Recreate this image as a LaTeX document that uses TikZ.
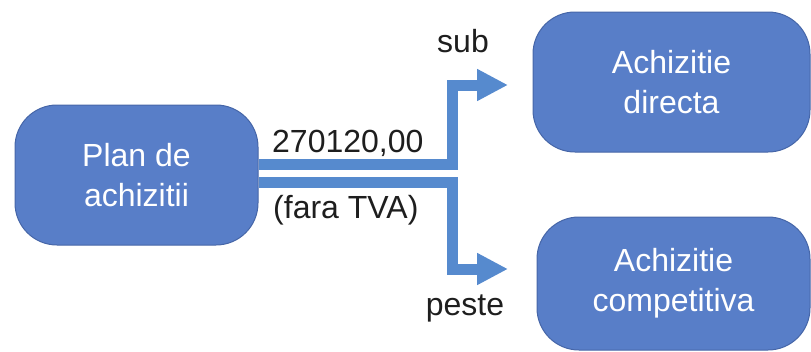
\documentclass[tikz,border=0pt]{standalone}
\usepackage{fontspec}
\setmainfont{Liberation Sans}
\usetikzlibrary{arrows.meta}

\definecolor{boxblue}{RGB}{88,126,200}
\definecolor{boxedge}{RGB}{70,102,168}
\definecolor{arrowblue}{RGB}{86,138,206}
\definecolor{labelgray}{RGB}{30,30,30}

\tikzset{
    stage/.style = {draw=boxedge, fill=boxblue, line width=1pt,
        rounded corners=42pt, text=white, align=center,
        font=\fontsize{32}{40}\selectfont, inner sep=0pt},
    flow/.style = {draw=arrowblue, line width=11pt,
        -{Triangle[length=31pt,width=30pt]}},
    tag/.style = {text=labelgray, font=\fontsize{32}{38}\selectfont,
        inner sep=0pt, anchor=base west}
}

\begin{document}
\begin{tikzpicture}[x=1pt, y=-1pt]

        \useasboundingbox (0,0) rectangle (811,351);

        % The three boxes.
        \node[stage, minimum width=243pt, minimum height=140pt]
            (plan) at (136.5,175) {Plan de\\achizitii};
        \node[stage, minimum width=277pt, minimum height=140pt]
            (direct) at (671.5,82) {Achizitie\\directa};
        \node[stage, minimum width=273pt, minimum height=133pt]
            (compet) at (673.5,283.5) {Achizitie\\competitiva};

        % Free ends of the two arrows.
        \coordinate (upend) at (508,85);
        \coordinate (downend) at (508,269);

        % Arrows out of the plan box.
        \draw[flow] ([yshift=11pt]plan.east) -- ++(194,0) |- (upend);
        \draw[flow] ([yshift=-7pt]plan.east) -- ++(194,0) |- (downend);

        % Labels on the arrows.
        \node[tag] (amount) at (272,152) {270120,00};
        \node[tag] (vat) at (273,218) {(fara TVA)};
        \node[tag, anchor=base] (below) at (463,52) {sub};
        \node[tag, anchor=base] (above) at (465,315) {peste};
    \end{tikzpicture}
\end{document}
